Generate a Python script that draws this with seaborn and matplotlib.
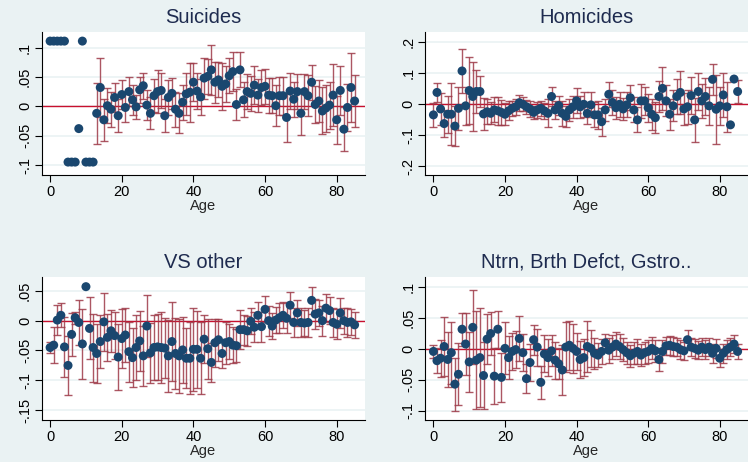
import numpy as np
import pandas as pd
import matplotlib
matplotlib.use("Agg")
import matplotlib.pyplot as plt
import seaborn as sns

# --- data: point estimates and CI half-widths by age ---
ages = list(range(86))

suicide_est = [0.111, 0.111, 0.111, 0.111, 0.111, -0.095, -0.095, -0.095, -0.038, 0.111,
               -0.095, -0.095, -0.095, -0.012, 0.032, -0.023, 0.001, -0.005, 0.015, -0.016,
               0.020, -0.002, 0.025, 0.011, -0.001, 0.028, 0.035, 0.002, -0.012, 0.018,
               0.025, 0.027, -0.016, 0.015, 0.022, -0.005, -0.012, 0.007, 0.021, 0.024,
               0.041, 0.026, 0.016, 0.048, 0.051, 0.062, 0.041, 0.045, 0.034, 0.038,
               0.052, 0.059, 0.003, 0.062, 0.011, 0.025, 0.022, 0.036, 0.019, 0.032,
               0.034, 0.019, 0.018, 0.001, 0.018, 0.018, -0.019, 0.026, 0.012, 0.025,
               -0.012, 0.025, 0.018, 0.041, 0.003, 0.009, -0.008, -0.003, 0.002, 0.019,
               -0.023, 0.027, -0.039, -0.002, 0.032, 0.009]
suicide_hw = [np.nan] * 13 + [
               0.052, 0.050, 0.036, 0.030, 0.030, 0.024, 0.028,
               0.025, 0.025, 0.025, 0.025, 0.020, 0.022, 0.022, 0.025, 0.027, 0.028,
               0.037, 0.030, 0.028, 0.030, 0.027, 0.030, 0.034, 0.030, 0.035, 0.050,
               0.032, 0.030, 0.030, 0.035, 0.030, 0.042, 0.035, 0.030, 0.040, 0.030,
               0.030, 0.033, 0.026, 0.030, 0.030, 0.030, 0.030, 0.032, 0.028, 0.030,
               0.030, 0.030, 0.030, 0.035, 0.032, 0.032, 0.041, 0.030, 0.030, 0.030,
               0.037, 0.030, 0.035, 0.030, 0.032, 0.035, 0.040, 0.040, 0.040, 0.053,
               0.041, 0.041, 0.037, 0.040, 0.058, 0.045]

homicide_est = [-0.035, 0.037, -0.016, -0.063, -0.033, -0.033, -0.071, -0.014, 0.106, -0.006,
                0.043, 0.024, 0.040, 0.040, -0.032, -0.025, -0.030, -0.019, -0.022, -0.027,
                -0.033, -0.022, -0.014, -0.009, 0.004, -0.001, -0.009, -0.016, -0.027, -0.019,
                -0.014, -0.022, -0.030, 0.024, -0.019, -0.005, -0.030, -0.040, -0.019, -0.009,
                0.010, -0.009, -0.001, -0.030, -0.003, -0.035, -0.035, -0.057, -0.019, 0.031,
                0.005, -0.012, -0.001, -0.016, -0.003, 0.020, -0.019, -0.051, 0.010, 0.010,
                -0.012, -0.033, -0.044, 0.024, 0.050, 0.010, -0.033, -0.006, 0.024, 0.037,
                -0.016, -0.009, 0.027, -0.051, 0.040, 0.010, 0.024, -0.006, 0.079, -0.017,
                -0.006, 0.029, -0.009, -0.067, 0.080, 0.040]
homicide_hw = [0.038, 0.031, 0.050, 0.044, 0.060, 0.100, 0.063, 0.070, 0.070, 0.060,
               0.108, 0.110, 0.070, 0.050, 0.050, 0.040, 0.035, 0.040, 0.045, 0.040,
               0.035, 0.030, 0.025, 0.025, 0.025, 0.022, 0.022, 0.025, 0.022, 0.025,
               0.025, 0.025, 0.045, 0.030, 0.030, 0.030, 0.040, 0.035, 0.035, 0.035,
               0.040, 0.035, 0.040, 0.035, 0.040, 0.040, 0.045, 0.045, 0.035, 0.040,
               0.040, 0.035, 0.040, 0.035, 0.040, 0.040, 0.040, 0.040, 0.055, 0.045,
               0.045, 0.050, 0.050, 0.050, 0.070, 0.050, 0.050, 0.050, 0.055, 0.070,
               0.050, 0.055, 0.060, 0.070, 0.060, 0.055, 0.060, 0.060, 0.050, 0.110,
               0.060, 0.070, 0.080, np.nan, np.nan, 0.037]

vs_est = [-0.045, -0.041, 0.001, 0.009, -0.044, -0.075, -0.023, 0.005, -0.003, -0.039,
          0.057, -0.013, -0.045, -0.055, -0.035, -0.002, -0.028, -0.017, -0.025, -0.061,
          -0.030, -0.024, -0.052, -0.062, -0.045, -0.034, -0.059, -0.009, -0.054, -0.045,
          -0.044, -0.045, -0.046, -0.059, -0.035, -0.055, -0.059, -0.049, -0.063, -0.063,
          -0.048, -0.048, -0.063, -0.031, -0.047, -0.070, -0.037, -0.032, -0.055, -0.037,
          -0.035, -0.041, -0.042, -0.015, -0.015, -0.017, -0.001, -0.011, 0.009, -0.010,
          0.019, 0.000, -0.009, 0.001, 0.005, 0.009, 0.004, 0.026, -0.003, 0.013,
          -0.003, -0.004, -0.003, 0.034, 0.011, 0.013, 0.000, 0.021, 0.017, -0.003,
          -0.006, 0.013, 0.000, -0.003, -0.002, -0.007]
vs_hw = [0.010, 0.030, 0.025, 0.020, 0.050, 0.050, 0.036, 0.010, 0.037, 0.058,
         np.nan, 0.052, 0.057, 0.050, 0.045, 0.049, 0.040, 0.035, 0.040, 0.056,
         0.050, 0.045, 0.050, 0.050, 0.055, 0.050, 0.050, 0.052, 0.050, 0.055,
         0.055, 0.060, 0.050, 0.060, 0.066, 0.060, 0.062, 0.055, 0.050, 0.060,
         0.070, 0.065, 0.060, 0.040, 0.050, 0.033, 0.040, 0.035, 0.024, 0.035,
         0.030, 0.030, 0.028, 0.033, 0.025, 0.025, 0.022, 0.025, 0.022, 0.025,
         0.022, 0.025, 0.022, 0.022, 0.025, 0.022, 0.025, 0.022, 0.025, 0.022,
         0.025, 0.022, 0.025, 0.022, 0.025, 0.022, 0.025, 0.024, 0.022, 0.025,
         0.025, 0.025, 0.022, 0.025, 0.022, 0.022]

ntrn_est = [-0.004, -0.019, -0.015, 0.004, -0.017, -0.006, -0.057, -0.041, 0.032, 0.008,
            -0.021, 0.035, -0.018, -0.014, -0.043, 0.016, 0.025, -0.044, 0.032, -0.046,
            0.001, -0.014, -0.004, -0.001, 0.017, -0.006, -0.048, -0.022, 0.015, 0.003,
            -0.054, -0.008, -0.014, -0.003, -0.018, -0.024, -0.034, 0.003, 0.006, 0.001,
            -0.004, -0.017, -0.014, 0.004, 0.001, -0.007, -0.010, -0.004, 0.010, -0.002,
            0.003, 0.008, 0.004, -0.001, -0.006, -0.011, -0.007, -0.004, -0.010, -0.006,
            -0.004, 0.001, -0.003, -0.017, -0.004, 0.005, 0.006, 0.004, 0.003, -0.001,
            -0.003, 0.015, 0.003, 0.001, -0.002, 0.003, -0.001, 0.003, -0.007, 0.001,
            -0.015, -0.007, -0.001, 0.003, 0.008, -0.004]
ntrn_hw = [0.010, 0.020, 0.030, 0.047, 0.045, 0.050, 0.043, 0.050, 0.027, 0.050,
           0.048, 0.060, 0.080, 0.080, 0.055, 0.040, 0.035, 0.045, 0.030, 0.040,
           0.042, 0.035, 0.030, 0.030, 0.037, 0.030, 0.023, 0.030, 0.024, 0.030,
           0.027, 0.030, 0.030, 0.025, 0.030, 0.025, 0.040, 0.040, 0.040, 0.040,
           0.030, 0.030, 0.030, 0.042, 0.030, 0.025, 0.020, 0.020, 0.015, 0.020,
           0.020, 0.020, 0.020, 0.018, 0.018, 0.018, 0.018, 0.020, 0.018, 0.018,
           0.018, 0.018, 0.018, 0.018, 0.018, 0.015, 0.015, 0.015, 0.015, 0.015,
           0.015, 0.015, 0.015, 0.015, 0.015, 0.015, 0.015, 0.015, 0.015, 0.015,
           0.015, 0.015, 0.015, 0.015, 0.015, 0.012]

titles = ["Suicides", "Homicides", "VS other", "Ntrn, Brth Defct, Gstro.."]
yticks = [[-0.1, -0.05, 0, 0.05, 0.1],
          [-0.2, -0.1, 0, 0.1, 0.2],
          [-0.15, -0.1, -0.05, 0, 0.05],
          [-0.1, -0.05, 0, 0.05, 0.1]]
yticklabels = [["-.1", "-.05", "0", ".05", ".1"],
               ["-.2", "-.1", "0", ".1", ".2"],
               ["-.15", "-.1", "-.05", "0", ".05"],
               ["-.1", "-.05", "0", ".05", ".1"]]
xticks = [0, 20, 40, 60, 80]

# --- style (Stata s2color look) ---
BG = "#EAF2F3"
NAVY = "#1A476F"
BAR = "#9E3A48"
ZERO = "#C8102E"
TITLE = "#1E2B4F"

sns.set_theme(style="white", rc={
    "figure.facecolor": BG,
    "axes.facecolor": "white",
    "axes.edgecolor": "black",
    "axes.linewidth": 0.8,
    "xtick.color": "black",
    "ytick.color": "black",
})
plt.rcParams["font.family"] = ["Liberation Sans", "DejaVu Sans"]

W, H = 748, 462
fig = plt.figure(figsize=(W / 100, H / 100), dpi=100)

# pixel boxes: left, top, right, bottom
boxes = [(41.7, 31.7, 365, 175), (425, 31.7, 748, 175),
         (41.7, 276.7, 365, 420), (425, 276.7, 748, 420)]
ylims = [(-0.117, 0.127), (-0.228, 0.232), (-0.1665, 0.0737), (-0.115, 0.117)]

frames = [
    pd.DataFrame({"age": ages, "est": suicide_est, "hw": suicide_hw}),
    pd.DataFrame({"age": ages, "est": homicide_est, "hw": homicide_hw}),
    pd.DataFrame({"age": ages, "est": vs_est, "hw": vs_hw}),
    pd.DataFrame({"age": ages, "est": ntrn_est, "hw": ntrn_hw}),
]

for i, df in enumerate(frames):
    l, t, r, b = boxes[i]
    ax = fig.add_axes([l / W, 1 - b / H, (r - l) / W, (b - t) / H])
    ax.set_xlim(-2.35, 87.9)
    ax.set_ylim(*ylims[i])

    for yv in yticks[i]:
        ax.axhline(yv, color=BG, lw=1.2, zorder=0)
    ax.axhline(0, color=ZERO, lw=1.0, zorder=1)

    ci = df.dropna(subset=["hw"])
    ax.errorbar(ci["age"], ci["est"], yerr=ci["hw"], fmt="none",
                ecolor=BAR, elinewidth=1.0, capsize=3, capthick=1.0,
                alpha=0.85, zorder=2)
    sns.scatterplot(data=df, x="age", y="est", color=NAVY, s=42,
                    edgecolor="none", linewidth=0, ax=ax, zorder=3)

    ax.set_xticks(xticks)
    ax.set_yticks(yticks[i])
    ax.set_yticklabels(yticklabels[i], rotation=90, va="center")
    ax.tick_params(axis="both", direction="out", length=5, width=0.8,
                   labelsize=10.5, pad=2, left=True, bottom=True)
    for side in ["top", "right"]:
        ax.spines[side].set_visible(False)
    ax.set_xlabel("Age", fontsize=10.5, labelpad=0)
    ax.set_ylabel("")

    fig.text((l + r) / 2 / W, 1 - (t - 14.5) / H, titles[i], ha="center",
             va="center", fontsize=14.5, color=TITLE)

fig.savefig("out.png", dpi=100, facecolor=BG)
